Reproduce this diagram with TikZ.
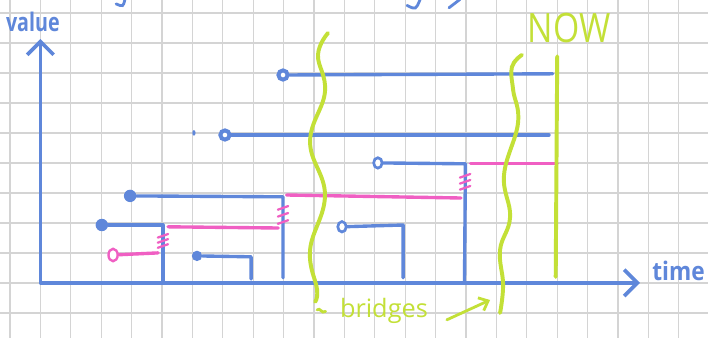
\documentclass[tikz,border=0pt]{standalone}
\usepackage{fontspec}
\newfontfamily\handfont{Open Sans}
\usetikzlibrary{shapes.geometric,arrows.meta}
\definecolor{blueink}{RGB}{95,135,218}
\definecolor{pinkink}{RGB}{240,95,195}
\definecolor{greenink}{RGB}{195,224,55}
\definecolor{paperline}{RGB}{212,212,212}

\begin{document}
\begin{tikzpicture}[
  x=0.76cm, y=0.75cm,
  >={Straight Barb[length=3.3mm,width=6.6mm]},
  paper/.style={draw=paperline, line width=0.9pt},
  axis/.style={<->, draw=blueink, line width=2.6pt, line cap=round, line join=round},
  bar/.style={draw=blueink, line width=2.4pt, line cap=round, line join=round},
  pinkbar/.style={draw=pinkink, line width=2.4pt, line cap=round},
  hatch/.style={draw=pinkink, line width=1.6pt, line cap=round},
  ring/.style={circle, draw=blueink, line width=2.8pt, fill=white, inner sep=0pt, minimum size=2.3mm},
  openring/.style={ellipse, draw=blueink, line width=1.9pt, fill=white, inner sep=0pt,
                   minimum width=2.1mm, minimum height=2.6mm},
  dot/.style={circle, fill=blueink, inner sep=0pt, minimum size=3.1mm},
  speck/.style={ellipse, fill=blueink, inner sep=0pt, minimum width=0.8mm, minimum height=1.4mm},
  pinkring/.style={ellipse, draw=pinkink, line width=1.7pt, fill=white, inner sep=0pt,
                   minimum width=2.3mm, minimum height=3.1mm},
  wave/.style={draw=greenink, line width=2.8pt, line cap=round},
  pen/.style={draw=blueink, line width=2pt, line cap=round},
  hand/.style={font=\handfont\bfseries\fontsize{14}{14}\selectfont, text=blueink, inner sep=0pt, yscale=1.3},
  nowlbl/.style={font=\handfont\fontsize{24}{24}\selectfont, text=greenink, inner sep=0pt, yscale=1.2},
  brlbl/.style={font=\handfont\fontsize{18}{18}\selectfont, text=greenink, inner sep=0pt},
]

\useasboundingbox (-1.33,-1.83) rectangle (21.96,9.43);
\fill[white] (-1.33,-1.83) rectangle (21.96,9.43);
\foreach \gx in {-1,...,21} \draw[paper] (\gx,-1.83) -- (\gx,9.43);
\foreach \gy in {-1,...,9} \draw[paper] (-1.33,\gy) -- (21.96,\gy);

% cut-off heading
\draw[pen] (2.78,9.45) .. controls (2.72,9.2) .. (2.49,9.3);
\draw[pen] (12.49,9.45) .. controls (12.35,9.1) .. (12.06,9.25);
\draw[pen] (13.8,9.45) -- (13.44,9.17);

% axes
\coordinate (O) at (0,0);
\coordinate (vtip) at (0,8.13);
\coordinate (ttip) at (19.72,0);
\draw[axis] (vtip) -- (O) -- (ttip);
\node[hand] (vlab) at (-0.25,8.7) {value};
\node[hand, anchor=west, xscale=1.15] (tlab) at (20.12,0.4) {time};

% intervals
\node[ring] (r1) at (7.98,6.93) {};
\coordinate (r1e) at (16.85,6.97);
\draw[bar] (r1) -- (r1e);

\node[speck] (sp2) at (5.05,5.0) {};
\node[ring] (r2) at (6.07,4.93) {};
\coordinate (r2e) at (16.73,4.93);
\draw[bar] (r2) -- (r2e);

\node[openring] (r3) at (11.1,4.0) {};
\coordinate (c3) at (13.98,3.97);
\coordinate (f3) at (13.95,0);
\draw[bar] (r3) -- (c3) -- (f3);

\node[dot] (r4) at (2.95,2.9) {};
\coordinate (c4) at (7.98,2.87);
\coordinate (f4) at (7.98,0.17);
\draw[bar] (r4) -- (c4) -- (f4);

\node[dot] (r5) at (2.02,1.93) {};
\coordinate (c5) at (4.03,1.93);
\coordinate (f5) at (4.03,0);
\draw[bar] (r5) -- (c5) -- (f5);

\node[dot, minimum size=2.6mm] (r7) at (5.15,0.9) {};
\coordinate (c7) at (6.93,0.87);
\coordinate (f7) at (6.93,0.13);
\draw[bar] (r7) -- (c7) -- (f7);

\node[openring] (r8) at (9.92,1.87) {};
\coordinate (c8) at (11.93,1.93);
\coordinate (f8) at (11.93,0.17);
\draw[bar] (r8) -- (c8) -- (f8);

% pink path
\node[pinkring] (p6) at (2.39,0.93) {};
\coordinate (p6e) at (3.87,1.0);
\draw[pinkbar] (p6) -- (p6e);
\coordinate (p5a) at (4.2,1.87);
\coordinate (p5b) at (7.82,1.83);
\draw[pinkbar] (p5a) -- (p5b);
\coordinate (p4a) at (8.1,2.93);
\coordinate (p4b) at (13.83,2.83);
\draw[pinkbar] (p4a) -- (p4b);
\coordinate (p3a) at (14.15,3.97);
\coordinate (p3b) at (17,3.97);
\draw[pinkbar] (p3a) -- (p3b);

\foreach \h in {1.57,1.4,1.23} \draw[hatch] (3.86,\h-0.06) -- (4.2,\h+0.06);
\foreach \h in {2.5,2.27,2.03} \draw[hatch] (7.81,\h-0.06) -- (8.15,\h+0.06);
\foreach \h in {3.57,3.37,3.17} \draw[hatch] (13.8,\h-0.06) -- (14.14,\h+0.06);

% now and bridges
\node[nowlbl] (nowlab) at (17.39,8.5) {NOW};
\coordinate (nowtop) at (17,7.55);
\coordinate (nowbot) at (16.95,0.2);
\draw[wave] (nowtop) -- (nowbot);

\draw[wave] plot[smooth, tension=0.7] coordinates {(9.46,8.33) (9.13,7.6) (9.36,6.37) (8.87,4.7)
  (9.36,2.93) (8.87,1.1) (9.1,-0.23) (9.03,-0.63)};
\draw[wave] plot[smooth, tension=0.7] coordinates {(15.84,7.6) (15.51,7.2) (15.55,6.43) (15.71,5.33)
  (15.25,3.6) (15.45,2.2) (15.12,1.1) (15.22,-0.07) (15.12,-1.0)};

\node[brlbl] (brlab) at (11.3,-0.95) {bridges};
\draw[wave, line width=2pt] (9.1,-0.9) .. controls (9.2,-0.8) and (9.25,-1.05) .. (9.38,-0.95);
\coordinate (brA) at (13.37,-1.23);
\coordinate (brB) at (14.79,-0.57);
\draw[wave, line width=2pt, ->, >={Straight Barb[length=2mm,width=3.5mm]}] (brA) -- (brB);

\end{tikzpicture}
\end{document}
